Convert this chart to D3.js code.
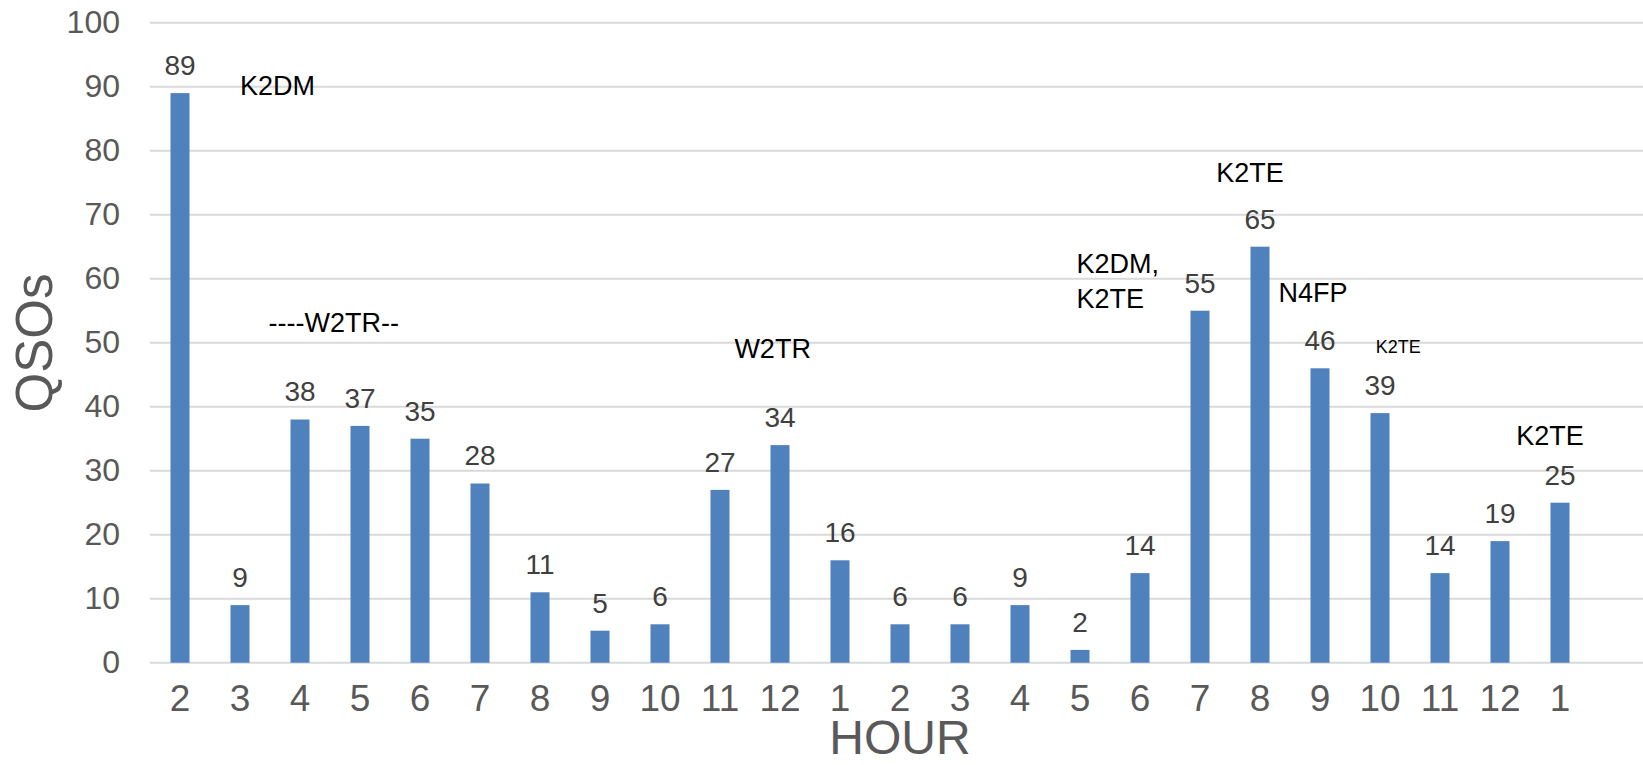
<!DOCTYPE html>
<html>
<head>
<meta charset="utf-8">
<script src="https://cdn.jsdelivr.net/npm/d3@7"></script>
<style>
  body { margin: 0; background: #fff; }
  svg { display: block; font-family: "Liberation Sans", Arial, sans-serif; }
</style>
</head>
<body>
<div id="chart"></div>
<script>
  "use strict";
  // hour of the contest, in order
  const hours = ["2", "3", "4", "5", "6", "7", "8", "9", "10", "11", "12", "1",
                 "2", "3", "4", "5", "6", "7", "8", "9", "10", "11", "12", "1"];
  const qsos = [89, 9, 38, 37, 35, 28, 11, 5, 6, 27, 34, 16,
                6, 6, 9, 2, 14, 55, 65, 46, 39, 14, 19, 25];
  const yTicks = [0, 10, 20, 30, 40, 50, 60, 70, 80, 90, 100];

  // operator notes, anchored in category index / QSO units
  const noteText = ["K2DM", "----W2TR--", "W2TR", "K2DM,", "K2TE", "K2TE", "N4FP", "K2TE", "K2TE"];
  const noteAt = [1.0, 1.475, 9.24, 14.94, 14.94, 17.27, 18.31, 19.93, 22.27];
  const noteLevel = [88.7, 51.7, 47.6, 60.9, 55.4, 75.1, 56.4, 48.4, 34.0];
  const noteSmall = [false, false, false, false, false, false, false, true, false];

  const width = 1643, height = 765;
  const margin = { left: 150, right: 53, top: 22.7, bottom: 102.3 };
  const innerW = width - margin.left - margin.right;
  const innerH = height - margin.top - margin.bottom;

  const idx = d3.range(hours.length);
  const x = d3.scaleBand().domain(idx).range([0, innerW])
    .paddingInner(41 / 60).paddingOuter(41 / 120);
  const xPos = d3.scaleLinear()
    .domain([0, 1])
    .range([x(0) + x.bandwidth() / 2, x(1) + x.bandwidth() / 2]);
  const y = d3.scaleLinear().domain([0, 100]).range([innerH, 0]);

  const svg = d3.select("#chart").append("svg")
    .attr("width", width).attr("height", height);
  const g = svg.append("g").attr("transform", `translate(${margin.left},${margin.top})`);

  // gridlines (run to the right edge)
  g.append("g").classed("grid", true)
    .selectAll("line").data(yTicks).enter().append("line")
    .attr("x1", 0).attr("x2", width - margin.left)
    .attr("y1", (d) => y(d)).attr("y2", (d) => y(d))
    .attr("stroke", "#d9d9d9").attr("stroke-width", 2);

  // y axis labels
  const yAxis = g.append("g").call(d3.axisLeft(y).tickValues(yTicks).tickSize(0).tickPadding(30));
  yAxis.select(".domain").remove();
  yAxis.selectAll("text")
    .attr("font-size", 32).attr("fill", "#595959")
    .attr("font-family", "Liberation Sans, Arial, sans-serif");

  // x axis labels
  const xAxis = g.append("g").attr("transform", `translate(0,${innerH})`)
    .call(d3.axisBottom(x).tickFormat((i) => hours[i]).tickSize(0).tickPadding(22));
  xAxis.select(".domain").remove();
  xAxis.selectAll("text")
    .attr("font-size", 37).attr("fill", "#595959")
    .attr("font-family", "Liberation Sans, Arial, sans-serif");

  // bars
  g.append("g").classed("bars", true)
    .selectAll("rect").data(idx).enter().append("rect")
    .attr("x", (i) => x(i)).attr("width", x.bandwidth())
    .attr("y", (i) => y(qsos[i])).attr("height", (i) => innerH - y(qsos[i]))
    .attr("fill", "#4f81bd");

  // value labels
  g.append("g").classed("values", true)
    .selectAll("text").data(idx).enter().append("text")
    .attr("x", (i) => x(i) + x.bandwidth() / 2)
    .attr("y", (i) => y(qsos[i]) - 18)
    .attr("text-anchor", "middle")
    .attr("font-size", 28).attr("fill", "#404040")
    .text((i) => qsos[i]);

  // notes
  g.append("g").classed("notes", true)
    .selectAll("text").data(noteText).enter().append("text")
    .attr("x", (d, i) => xPos(noteAt[i]))
    .attr("y", (d, i) => y(noteLevel[i]))
    .attr("font-size", (d, i) => (noteSmall[i] ? 18 : 27))
    .attr("fill", "#000")
    .text((d) => d);

  // axis titles
  svg.append("text")
    .attr("transform", `translate(52,343) rotate(-90)`)
    .attr("text-anchor", "middle")
    .attr("font-size", 51).attr("fill", "#595959")
    .text("QSOs");
  svg.append("text")
    .attr("x", 900).attr("y", 754)
    .attr("text-anchor", "middle")
    .attr("font-size", 48).attr("fill", "#595959")
    .text("HOUR");
</script>
</body>
</html>
